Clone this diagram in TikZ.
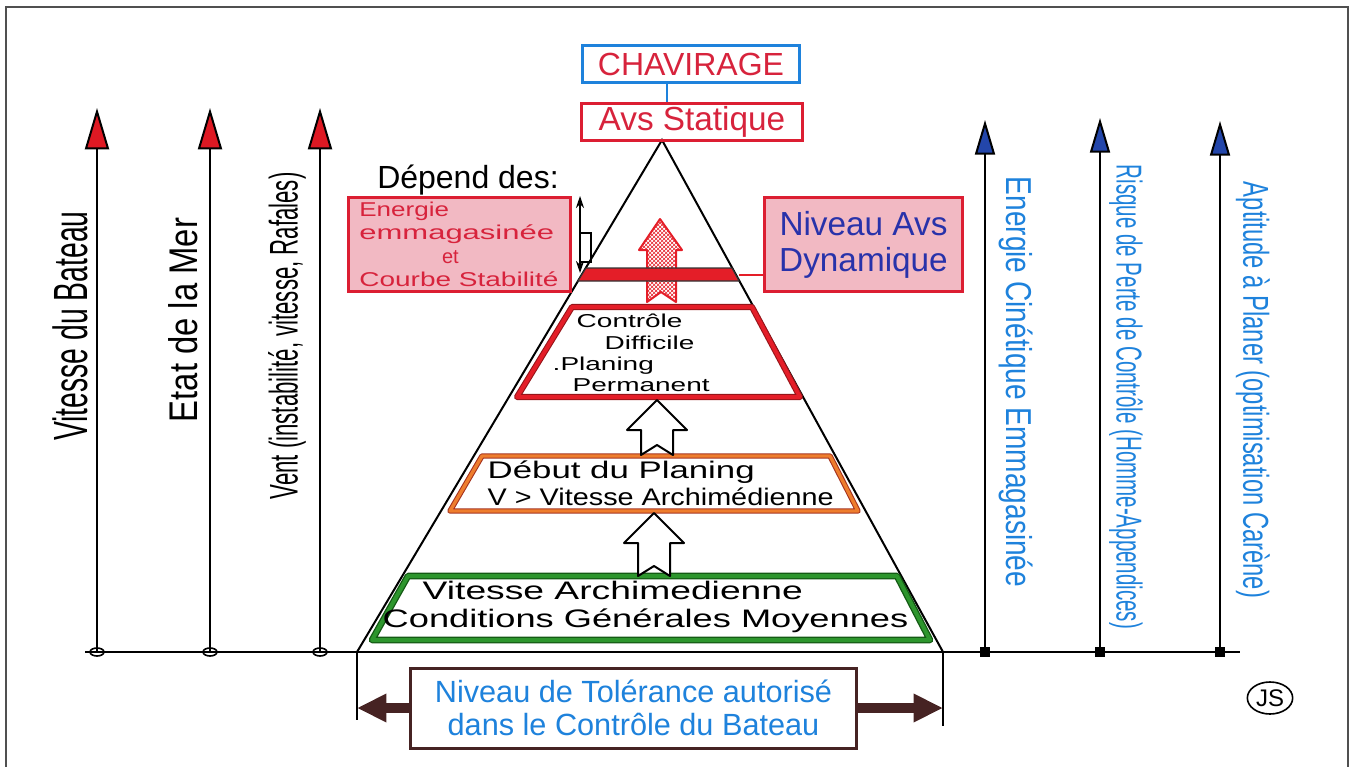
\documentclass[tikz,border=0pt]{standalone}
\usepackage{fontspec}
\setmainfont{Liberation Sans}
\usepackage{graphicx}
\usetikzlibrary{arrows.meta}
\usetikzlibrary{patterns}
\usetikzlibrary{shapes.geometric}

\definecolor{textred}{RGB}{215,35,60}
\definecolor{boxred}{RGB}{220,30,50}
\definecolor{pinkfill}{RGB}{242,185,195}
\definecolor{lightblue}{RGB}{30,130,220}
\definecolor{darkblue}{RGB}{40,50,170}
\definecolor{tipred}{RGB}{222,25,35}
\definecolor{tipblue}{RGB}{35,70,170}
\definecolor{trapred}{RGB}{228,30,40}
\definecolor{trapdark}{RGB}{150,20,25}
\definecolor{orangeln}{RGB}{238,125,45}
\definecolor{orangedk}{RGB}{165,50,30}
\definecolor{greenln}{RGB}{45,150,45}
\definecolor{greendk}{RGB}{20,90,20}
\definecolor{tolbrown}{RGB}{70,35,35}
\definecolor{framegray}{RGB}{80,80,80}

% horizontal squeeze / stretch of a line of text
\newcommand{\xsc}[2]{\scalebox{#1}[1]{#2}}

\tikzset{
    axisline/.style={line width=1.5pt},
    pinkbox/.style={draw=boxred, line width=2.25pt, fill=pinkfill, inner sep=1pt},
    whitearrow/.style={draw=black, fill=white, line width=1.5pt, line join=round},
}

\begin{document}
\begin{tikzpicture}[x=0.75pt, y=-0.75pt]
    \useasboundingbox (0,0) rectangle (1357,767);
    \draw[framegray, line width=1.5pt] (6,767) -- (6,7) -- (1348,7) -- (1348,767);

    % ground line and the six scales
    \draw[axisline] (85,652) -- (1240,652);
    \foreach \x in {97,210,320}{
        \draw[axisline, -{Triangle[length=31pt,width=18pt,fill=tipred]}] (\x,652) -- (\x,108);
        \draw[line width=1.2pt] (\x,652) ellipse [x radius=7, y radius=4];
    }
    \foreach \x/\yt in {985/120,1100/118,1220/121}{
        \draw[axisline, -{Triangle[length=26pt,width=15pt,fill=tipblue]}] (\x,652) -- (\x,\yt);
        \fill (\x-5,647) rectangle (\x+5,657);
    }

    \node[rotate=90, font=\fontsize{36pt}{36pt}\selectfont] (vitesse) at (70,326) {\xsc{0.59}{Vitesse du Bateau}};
    \node[rotate=90, font=\fontsize{30pt}{30pt}\selectfont] (etat) at (183,320) {\xsc{0.82}{Etat de la Mer}};
    \node[rotate=90, font=\fontsize{30pt}{30pt}\selectfont] (vent) at (287,336) {\xsc{0.555}{Vent (instabilité, vitesse, Rafales)}};

    \node[rotate=-90, text=lightblue, font=\fontsize{27pt}{27pt}\selectfont] (energie) at (1016,382) {\xsc{0.78}{Energie Cinétique Emmagasinée}};
    \node[rotate=-90, text=lightblue, font=\fontsize{27pt}{27pt}\selectfont] (risque) at (1126,397) {\xsc{0.57}{Risque de Perte de Contrôle (Homme-Appendices)}};
    \node[rotate=-90, text=lightblue, font=\fontsize{27pt}{27pt}\selectfont] (aptitude) at (1253,390) {\xsc{0.66}{Aptitude à Planer (optimisation Carène)}};

    % pyramid
    \coordinate (apex) at (662,140);
    \coordinate (baseL) at (357,652);
    \coordinate (baseR) at (943,652);
    \draw[axisline] (baseL) -- (apex) -- (baseR);

    % top boxes
    \node[draw=lightblue, line width=2.25pt, text=textred, minimum width=163pt, minimum height=28pt, inner sep=0pt,
        font=\fontsize{24pt}{24pt}\selectfont] (chav) at (691,64) {CHAVIRAGE};
    \node[draw=boxred, line width=2.25pt, text=textred, minimum width=166pt, minimum height=27pt, inner sep=0pt,
        font=\fontsize{25pt}{25pt}\selectfont] (stat) at (692,122) {Avs Statique};
    \draw[lightblue, line width=1.5pt] ([xshift=4pt]chav.south -| apex) -- ([xshift=4pt]stat.north -| apex);

    % side boxes
    \node[font=\fontsize{24pt}{24pt}\selectfont] (depend) at (468,180) {Dépend des:};
    \node[pinkbox, minimum width=166.5pt, minimum height=71pt, text=textred, align=left,
        font=\fontsize{15pt}{17.5pt}\selectfont] (energ) at (459,244.5)
        {\xsc{1.3}{Energie}\\\xsc{1.55}{emmagasinée}\\\hspace{62pt}et\\\xsc{1.4}{Courbe Stabilité}};
    \node[pinkbox, minimum width=148pt, minimum height=71pt, text=darkblue, align=center,
        font=\fontsize{25pt}{27pt}\selectfont] (dyn) at (863.5,244.5) {Niveau Avs\\Dynamique};
    \draw[line width=1.2pt, {Stealth[length=9pt,width=6pt]}-{Stealth[length=9pt,width=6pt]}] (580,196) -- (580,273);
    \draw[line width=1pt] (580,233) -- (591,233) -- (591,262) -- (580,262);

    % red arrow and bar
    \draw[trapred, line width=1.5pt, pattern=crosshatch, pattern color=trapred, line join=round]
        (660,219) -- (682,250) -- (676,250) -- (676,302) -- (661,292) -- (647,302) -- (647,250) -- (639,250) -- cycle;
    \filldraw[fill=trapred, draw=black!80, line width=0.8pt] (586,268) -- (732,268) -- (739,281) -- (578,281) -- cycle;
    \coordinate (barR) at (739,275);
    \draw[trapred, line width=1pt] (barR) -- (barR -| dyn.west);

    % levels of the pyramid
    \draw[draw=trapdark, double=trapred, double distance=3pt, line width=0.8pt, line join=round]
        (572,307) -- (752,307) -- (800,397) -- (517,397) -- cycle;
    \node[anchor=west, align=left, font=\fontsize{14pt}{16pt}\selectfont] (ctrl) at (548,353)
        {\hspace{18pt}\xsc{1.5}{Contrôle}\\\hspace{39pt}\xsc{1.5}{Difficile}\\\xsc{1.5}{.Planing}\\\hspace{15pt}\xsc{1.5}{Permanent}};

    \draw[draw=orangedk, double=orangeln, double distance=2.5pt, line width=0.8pt, line join=round]
        (482,456) -- (830,456) -- (858,511) -- (450,511) -- cycle;
    \node[anchor=west, align=left, font=\fontsize{18pt}{20pt}\selectfont] (debut) at (483,483)
        {\xsc{1.45}{Début du Planing}\\\xsc{1.2}{V > Vitesse Archimédienne}};

    \draw[draw=greendk, double=greenln, double distance=3pt, line width=1pt, line join=round]
        (408,576) -- (897,576) -- (930,640) -- (372,640) -- cycle;
    \node[anchor=west, align=left, font=\fontsize{19pt}{21pt}\selectfont] (archi) at (378,607)
        {\hspace{30pt}\xsc{1.47}{Vitesse Archimedienne}\\\xsc{1.43}{Conditions Générales Moyennes}};

    \foreach \cx/\tip/\bot in {657/400/455, 654/513/576}{
        \draw[whitearrow] (\cx,\tip) -- (\cx+30,\tip+30) -- (\cx+16,\tip+30) -- (\cx+16,\bot)
            -- (\cx,\bot-10) -- (\cx-16,\bot) -- (\cx-16,\tip+30) -- (\cx-30,\tip+30) -- cycle;
    }

    % tolerance
    \draw[line width=1pt] (baseL) -- (357,720);
    \draw[line width=1pt] (baseR) -- (943,726);
    \coordinate (tolL) at (357,708);
    \coordinate (tolR) at (943,708);
    \node[draw=tolbrown, line width=2.25pt, fill=white, minimum width=335pt, minimum height=60pt, align=center,
        text=lightblue, font=\fontsize{23pt}{25pt}\selectfont] (tol) at (633.5,708)
        {Niveau de Tolérance autorisé\\dans le Contrôle du Bateau};
    \draw[tolbrown, line width=8pt, -{Triangle[length=22pt,width=20pt]}] (tol.west) -- (tolL);
    \draw[tolbrown, line width=8pt, -{Triangle[length=22pt,width=20pt]}] (tol.east) -- (tolR);

    \node[draw, ellipse, line width=1.2pt, inner sep=0pt, minimum width=34pt, minimum height=24pt,
        font=\fontsize{18pt}{18pt}\selectfont] (js) at (1270,698) {JS};
\end{tikzpicture}
\end{document}
